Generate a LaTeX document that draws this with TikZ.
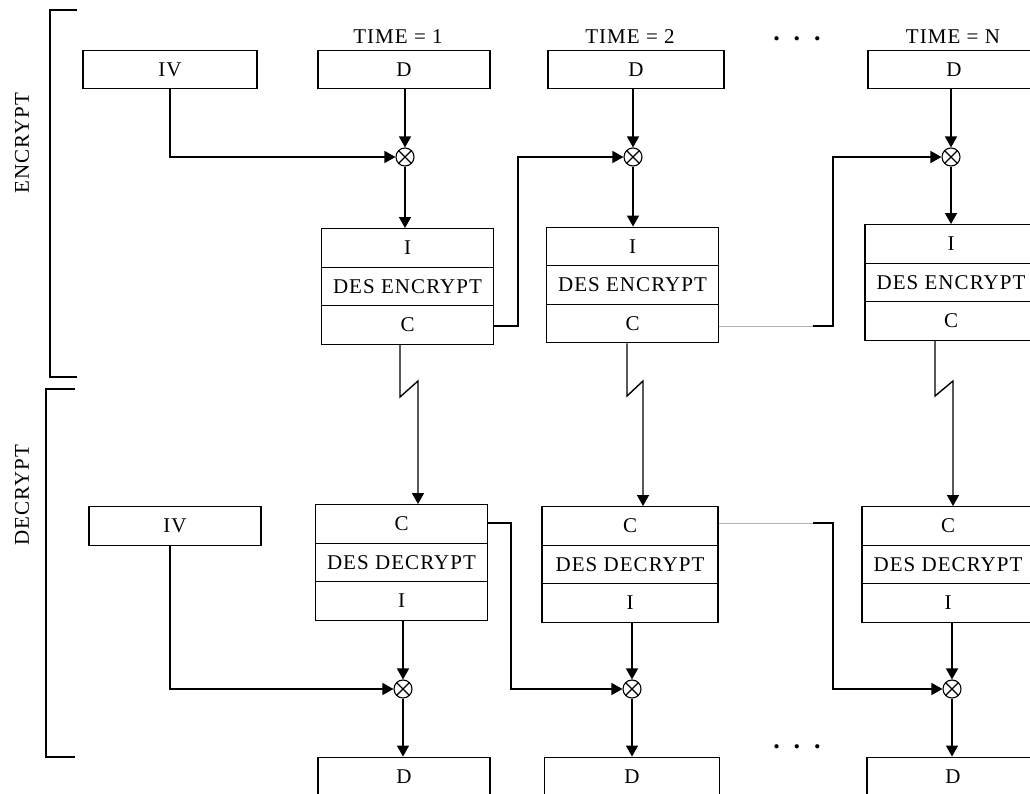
\documentclass[tikz,border=0pt]{standalone}
\usepackage{fontspec}
\setmainfont{Liberation Serif}[LetterSpace=5]
\usetikzlibrary{arrows.meta,calc}
\begin{document}
\begin{tikzpicture}[x=1pt,y=-1pt,
  ln/.style={line width=1.4pt, black},
  arr/.style={ln, -{Triangle[width=12pt,length=11pt]}},
  faint/.style={line width=1pt, gray!60},
  txt/.style={font=\fontsize{21}{21}\selectfont},
  box/.style={draw, line width=1.4pt, minimum width=172pt, minimum height=38.5pt, inner sep=0pt, txt},
  xor/.style={draw, circle, minimum size=18pt, inner sep=0pt, line width=1.1pt,
    path picture={\draw[line width=1.1pt] (path picture bounding box.north west) -- (path picture bounding box.south east)
      (path picture bounding box.north east) -- (path picture bounding box.south west);}},
  side/.style={txt, rotate=90},
  dots/.style={font=\fontsize{26}{26}\selectfont\bfseries}
]
\useasboundingbox (0,0) rectangle (1030,794);
\clip (0,0) rectangle (1030,794);

% brackets and side labels
\draw[ln] (77,10) -- (50,10) -- (50,377) -- (77,377);
\draw[ln] (75,389) -- (46,389) -- (46,757) -- (75,757);
\node[side] (lenc) at (22,143) {ENCRYPT};
\node[side] (ldec) at (22,495) {DECRYPT};

% time labels
\node[txt] (t1) at (398,37) {TIME = 1};
\node[txt] (t2) at (630,37) {TIME = 2};
\node[dots] (tdots) at (797,39) {.\hspace{14pt}.\hspace{14pt}.};
\node[txt] (tN) at (953,37) {TIME = N};

% encrypt inputs
\node[box, minimum width=174pt] (ivE) at (170,69.5) {IV};
\node[box] (dE1) at (404,69.5) {D};
\node[box, minimum width=176pt] (dE2) at (636,69.5) {D};
\node[box] (dE3) at (954,69.5) {D};

\node[xor] (xe1) at (405,157) {};
\node[xor] (xe2) at (633,157) {};
\node[xor] (xe3) at (951,157) {};

% encrypt DES boxes
\node[box] (e1i) at (407.5,248) {I};
\node[box] (e1m) at (407.5,286.5) {DES ENCRYPT};
\node[box] (e1c) at (407.5,325) {C};
\node[box] (e2i) at (632.5,246.5) {I};
\node[box] (e2m) at (632.5,285) {DES ENCRYPT};
\node[box] (e2c) at (632.5,323.5) {C};
\node[box] (e3i) at (951,244) {I};
\node[box] (e3m) at (951,282.5) {DES ENCRYPT};
\node[box] (e3c) at (951,321) {C};

% decrypt DES boxes
\node[box] (d1c) at (401.5,524) {C};
\node[box] (d1m) at (401.5,562.5) {DES DECRYPT};
\node[box] (d1i) at (401.5,601) {I};
\node[box, minimum width=176pt] (d2c) at (630,526) {C};
\node[box, minimum width=176pt] (d2m) at (630,564.5) {DES DECRYPT};
\node[box, minimum width=176pt] (d2i) at (630,603) {I};
\node[box] (d3c) at (948,526) {C};
\node[box] (d3m) at (948,564.5) {DES DECRYPT};
\node[box] (d3i) at (948,603) {I};

\node[box] (ivD) at (175,526) {IV};

\node[xor] (xd1) at (403,689) {};
\node[xor] (xd2) at (632,689) {};
\node[xor] (xd3) at (952,689) {};

\node[box] (o1) at (404,776.5) {D};
\node[box, minimum width=175pt] (o2) at (632,776.5) {D};
\node[box] (o3) at (953,776.5) {D};
\node[dots] (bdots) at (797,747) {.\hspace{14pt}.\hspace{14pt}.};

% encrypt connectors
\draw[arr] (dE1.south -| xe1) -- (xe1);
\draw[arr] (dE2.south -| xe2) -- (xe2);
\draw[arr] (dE3.south -| xe3) -- (xe3);
\draw[arr] (ivE.south) |- (xe1);
\draw[arr] (xe1) -- (xe1 |- e1i.north);
\draw[arr] (xe2) -- (xe2 |- e2i.north);
\draw[arr] (xe3) -- (xe3 |- e3i.north);
\coordinate (r1) at (518,326);
\draw[arr] (e1c.east |- r1) -- (r1) |- (xe2);
\coordinate (g1) at (813,326);
\coordinate (r2) at (833,326);
\draw[faint] (e2c.east |- g1) -- (g1);
\draw[arr] (g1) -- (r2) |- (xe3);

% transmission (zigzag) links
\coordinate (k1) at (400,397); \coordinate (k1b) at (418,381);
\coordinate (k2) at (627,396); \coordinate (k2b) at (643,381);
\coordinate (k3) at (935,396); \coordinate (k3b) at (953,381);
\draw[arr] (e1c.south -| k1) -- (k1) -- (k1b) -- (k1b |- d1c.north);
\draw[arr] (e2c.south -| k2) -- (k2) -- (k2b) -- (k2b |- d2c.north);
\draw[arr] (e3c.south -| k3) -- (k3) -- (k3b) -- (k3b |- d3c.north);

% decrypt connectors
\draw[arr] (ivD.south -| 170,0) |- (xd1);
\draw[arr] (d1i.south -| xd1) -- (xd1);
\draw[arr] (d2i.south -| xd2) -- (xd2);
\draw[arr] (d3i.south -| xd3) -- (xd3);
\draw[arr] (xd1) -- (xd1 |- o1.north);
\draw[arr] (xd2) -- (xd2 |- o2.north);
\draw[arr] (xd3) -- (xd3 |- o3.north);
\coordinate (s1) at (511,523);
\draw[arr] (d1c.east |- s1) -- (s1) |- (xd2);
\coordinate (g2) at (813,523);
\coordinate (s2) at (833,523);
\draw[faint] (d2c.east |- g2) -- (g2);
\draw[arr] (g2) -- (s2) |- (xd3);
\end{tikzpicture}
\end{document}
